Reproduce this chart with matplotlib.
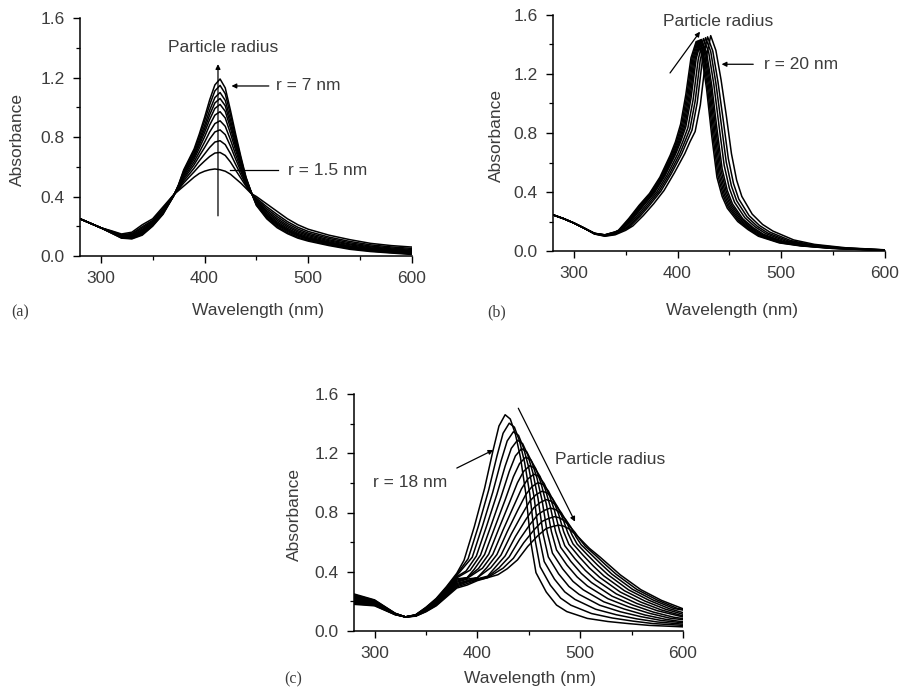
import matplotlib
matplotlib.use("Agg")
import matplotlib.pyplot as plt
from matplotlib.ticker import MultipleLocator

plt.rcParams['font.family'] = ['Liberation Sans', 'DejaVu Sans']

# ---------------- Panel (a): r = 1.5 ... 7 nm ----------------
A_WL = [280, 290, 300, 310, 320, 330, 340, 350, 360, 370, 375, 380, 385, 390, 395, 400,
        405, 410, 415, 420, 425, 430, 435, 440, 445, 450, 460, 470, 480, 490, 500,
        520, 540, 560, 580, 600]
A_ABS = [
    [.25, .22, .19, .17, .148, .16, .21, .25, .33, .41, .44, .47, .50, .53, .555, .57, .58, .585, .58, .57, .55, .52, .49, .455, .42, .40, .35, .30, .25, .21, .18, .14, .11, .085, .07, .06],
    [.25, .22, .19, .167, .143, .151, .197, .240, .320, .408, .448, .491, .529, .566, .605, .638, .669, .692, .696, .676, .632, .577, .524, .469, .422, .389, .331, .279, .231, .193, .165, .127, .098, .075, .061, .051],
    [.25, .22, .19, .165, .139, .146, .188, .234, .314, .407, .453, .505, .548, .591, .640, .685, .730, .766, .775, .749, .688, .616, .548, .479, .423, .381, .318, .265, .218, .181, .154, .118, .089, .067, .054, .044],
    [.25, .22, .19, .163, .136, .140, .179, .228, .308, .406, .458, .518, .566, .614, .672, .728, .787, .834, .848, .816, .739, .652, .569, .488, .424, .374, .306, .252, .206, .170, .145, .109, .081, .061, .048, .038],
    [.25, .22, .19, .162, .133, .136, .172, .223, .303, .405, .462, .529, .581, .633, .698, .764, .834, .890, .909, .872, .782, .682, .587, .496, .425, .368, .296, .241, .196, .161, .137, .102, .075, .055, .043, .033],
    [.25, .22, .19, .160, .130, .131, .165, .218, .298, .404, .466, .540, .596, .652, .725, .800, .881, .947, .970, .928, .825, .712, .605, .503, .426, .362, .286, .230, .186, .152, .129, .095, .068, .050, .038, .028],
    [.25, .22, .19, .159, .128, .128, .160, .214, .294, .403, .469, .549, .608, .667, .746, .829, .918, .992, 1.019, .973, .860, .736, .620, .509, .427, .357, .278, .221, .178, .145, .122, .090, .063, .045, .034, .024],
    [.25, .22, .19, .158, .126, .125, .155, .211, .291, .402, .471, .556, .618, .679, .763, .853, .949, 1.029, 1.059, 1.010, .888, .756, .631, .514, .428, .353, .272, .214, .172, .139, .117, .085, .059, .042, .031, .021],
    [.25, .22, .19, .157, .124, .122, .151, .208, .288, .402, .474, .564, .628, .692, .780, .876, .980, 1.065, 1.099, 1.046, .916, .775, .643, .519, .429, .349, .265, .207, .165, .134, .112, .081, .055, .038, .028, .018],
    [.25, .22, .19, .156, .122, .118, .145, .204, .284, .401, .477, .572, .640, .707, .801, .905, 1.017, 1.110, 1.147, 1.091, .950, .799, .657, .525, .429, .344, .257, .198, .157, .126, .106, .075, .050, .034, .023, .014],
    [.25, .22, .19, .155, .12, .115, .14, .20, .28, .40, .48, .58, .65, .72, .82, .93, 1.05, 1.15, 1.19, 1.13, .98, .82, .67, .53, .43, .34, .25, .19, .15, .12, .10, .07, .045, .03, .02, .01],
]

# ---------------- Panel (b): up to r = 20 nm ----------------
B_WL = [
    [280, 290, 300, 310, 320, 330, 340, 343, 353, 363, 373, 383, 393, 398, 403, 408, 413, 418, 423, 428, 433, 438, 443, 448, 458, 468, 478, 498, 518, 548, 600],
    [280, 290, 300, 310, 320, 330, 340, 344, 354, 364, 374, 384, 394, 399, 404, 409, 414, 419, 424, 429, 434, 439, 444, 449, 459, 469, 479, 499, 519, 549, 600],
    [280, 290, 300, 310, 320, 330, 340, 345, 355, 365, 375, 385, 395, 400, 405, 410, 415, 420, 425, 430, 435, 440, 445, 450, 460, 470, 480, 500, 520, 550, 600],
    [280, 290, 300, 310, 320, 330, 340, 346, 356, 366, 376, 386, 396, 401, 406, 411, 416, 421, 426, 431, 436, 441, 446, 451, 461, 471, 481, 501, 521, 551, 600],
    [280, 290, 300, 310, 320, 330, 340, 347, 357, 367, 377, 387, 397, 402, 407, 412, 417, 422, 427, 432, 437, 442, 447, 452, 462, 472, 482, 502, 522, 552, 600],
    [280, 290, 300, 310, 320, 330, 340, 348, 358, 368, 378, 388, 398, 403, 408, 413, 418, 423, 428, 433, 438, 443, 448, 453, 463, 473, 483, 503, 523, 553, 600],
    [280, 290, 300, 310, 320, 330, 340, 350, 360, 370, 380, 390, 400, 405, 410, 415, 420, 425, 430, 435, 440, 445, 450, 455, 465, 475, 485, 505, 525, 555, 600],
    [280, 290, 300, 310, 320, 330, 340, 352, 362, 372, 382, 392, 402, 407, 412, 417, 422, 427, 432, 437, 442, 447, 452, 457, 467, 477, 487, 507, 527, 557, 600],
    [280, 290, 300, 310, 320, 330, 340, 354, 364, 374, 384, 394, 404, 409, 414, 419, 424, 429, 434, 439, 444, 449, 454, 459, 469, 479, 489, 509, 529, 559, 600],
    [280, 290, 300, 310, 320, 330, 340, 350, 357, 367, 377, 387, 397, 407, 412, 417, 422, 427, 432, 437, 442, 447, 452, 457, 462, 472, 482, 492, 512, 532, 562, 600],
]
B_ABS = [
    [.245, .22, .19, .155, .12, .11, .13, .14, .22, .31, .39, .50, .65, .74, .86, 1.06, 1.31, 1.42, 1.34, 1.10, .78, .50, .37, .29, .20, .145, .10, .055, .035, .018, .004],
    [.245, .22, .19, .155, .12, .109, .129, .142, .221, .311, .391, .502, .651, .74, .857, 1.055, 1.309, 1.423, 1.341, 1.104, .790, .511, .378, .296, .204, .147, .102, .056, .036, .018, .004],
    [.245, .22, .19, .155, .119, .109, .127, .144, .223, .311, .393, .504, .651, .74, .853, 1.050, 1.307, 1.426, 1.343, 1.108, .800, .522, .385, .301, .207, .150, .105, .058, .036, .019, .005],
    [.245, .22, .19, .155, .119, .108, .126, .146, .224, .312, .394, .506, .652, .74, .850, 1.045, 1.306, 1.428, 1.344, 1.113, .809, .534, .393, .307, .211, .152, .107, .059, .037, .019, .005],
    [.245, .22, .19, .155, .119, .107, .124, .149, .226, .313, .396, .509, .653, .74, .846, 1.040, 1.304, 1.432, 1.346, 1.117, .821, .546, .402, .313, .215, .155, .110, .061, .038, .019, .005],
    [.245, .22, .19, .155, .118, .106, .123, .151, .227, .314, .397, .511, .654, .74, .842, 1.035, 1.303, 1.434, 1.347, 1.122, .830, .558, .410, .319, .218, .158, .113, .062, .039, .019, .005],
    [.245, .22, .19, .155, .118, .105, .12, .155, .23, .315, .40, .515, .655, .74, .835, 1.025, 1.30, 1.44, 1.35, 1.13, .85, .58, .425, .33, .225, .163, .118, .065, .04, .02, .006],
    [.245, .22, .19, .155, .117, .104, .117, .159, .233, .316, .403, .519, .656, .74, .828, 1.015, 1.297, 1.446, 1.353, 1.138, .870, .602, .440, .341, .232, .167, .122, .068, .041, .021, .007],
    [.245, .22, .19, .155, .116, .102, .114, .164, .236, .318, .406, .524, .658, .74, .82, 1.005, 1.294, 1.452, 1.356, 1.147, .891, .626, .457, .353, .240, .173, .128, .071, .043, .021, .007],
    [.245, .22, .19, .155, .115, .10, .11, .14, .17, .24, .32, .41, .53, .66, .74, .81, .99, 1.29, 1.46, 1.36, 1.16, .92, .66, .48, .37, .25, .18, .135, .075, .045, .022, .008],
]

# ---------------- Panel (c): from r = 18 nm upward ----------------
C_WL = [
    [280, 300, 320, 330, 340, 350, 360, 370, 380, 387, 397, 407, 415, 421, 427, 432, 437, 442, 447, 452, 457, 467, 477, 487, 507, 527, 547, 567, 587, 600],
    [280, 300, 320, 330, 340, 350, 360, 370, 380, 391, 401, 411, 419, 425, 431, 436, 441, 446, 451, 456, 461, 471, 481, 491, 511, 531, 551, 571, 600],
    [280, 300, 320, 330, 340, 350, 360, 370, 380, 395, 405, 415, 423, 429, 435, 440, 445, 450, 455, 460, 465, 475, 485, 495, 515, 535, 555, 575, 600],
    [280, 300, 320, 330, 340, 350, 360, 370, 380, 389, 399, 409, 419, 427, 433, 439, 444, 449, 454, 459, 464, 469, 479, 489, 499, 519, 539, 559, 579, 600],
    [280, 300, 320, 330, 340, 350, 360, 370, 380, 393, 403, 413, 423, 431, 437, 443, 448, 453, 458, 463, 468, 473, 483, 493, 503, 523, 543, 563, 583, 600],
    [280, 300, 320, 330, 340, 350, 360, 370, 380, 390, 397, 407, 417, 427, 435, 441, 447, 452, 457, 462, 467, 472, 477, 487, 497, 507, 527, 547, 567, 587, 600],
    [280, 300, 320, 330, 340, 350, 360, 370, 380, 390, 401, 411, 421, 431, 439, 445, 451, 456, 461, 466, 471, 476, 481, 491, 501, 511, 531, 551, 571, 591, 600],
    [280, 300, 320, 330, 340, 350, 360, 370, 380, 390, 405, 415, 425, 435, 443, 449, 455, 460, 465, 470, 475, 480, 485, 495, 505, 515, 535, 555, 575, 600],
    [280, 300, 320, 330, 340, 350, 360, 370, 380, 390, 400, 409, 419, 429, 439, 447, 453, 459, 464, 469, 474, 479, 484, 489, 499, 509, 519, 539, 559, 579, 600],
    [280, 300, 320, 330, 340, 350, 360, 370, 380, 390, 400, 413, 423, 433, 443, 451, 457, 463, 468, 473, 478, 483, 488, 493, 503, 513, 523, 543, 563, 583, 600],
    [280, 300, 320, 330, 340, 350, 360, 370, 380, 390, 400, 410, 417, 427, 437, 447, 455, 461, 467, 472, 477, 482, 487, 492, 497, 507, 517, 527, 547, 567, 587, 600],
    [280, 300, 320, 330, 340, 350, 360, 370, 380, 390, 400, 410, 421, 431, 441, 451, 459, 465, 471, 476, 481, 486, 491, 496, 501, 511, 521, 531, 551, 571, 591, 600],
    [280, 300, 320, 330, 340, 350, 360, 370, 380, 390, 400, 410, 425, 435, 445, 455, 463, 469, 475, 480, 485, 490, 495, 500, 505, 515, 525, 535, 555, 575, 595, 600],
    [280, 300, 320, 330, 340, 350, 360, 370, 380, 390, 400, 410, 420, 429, 439, 449, 459, 467, 473, 479, 484, 489, 494, 499, 504, 509, 519, 529, 539, 559, 579, 600],
]
C_ABS = [
    [.25, .21, .12, .095, .11, .16, .22, .30, .39, .477, .704, .963, 1.212, 1.384, 1.46, 1.431, 1.329, 1.168, .934, .599, .394, .263, .175, .131, .085, .064, .050, .038, .032, .028],
    [.245, .207, .119, .095, .109, .158, .216, .295, .382, .488, .708, .952, 1.180, 1.335, 1.403, 1.376, 1.283, 1.136, .924, .620, .434, .309, .222, .174, .118, .088, .067, .050, .038],
    [.239, .204, .118, .095, .108, .155, .212, .289, .375, .498, .710, .938, 1.147, 1.283, 1.345, 1.321, 1.235, 1.102, .911, .639, .469, .350, .264, .213, .147, .110, .082, .061, .046],
    [.234, .201, .118, .095, .108, .153, .208, .284, .367, .405, .506, .709, .923, 1.113, 1.233, 1.288, 1.265, 1.189, 1.068, .895, .653, .500, .386, .301, .247, .174, .130, .097, .071, .055],
    [.228, .198, .117, .095, .107, .151, .205, .278, .359, .411, .512, .706, .905, 1.077, 1.182, 1.231, 1.210, 1.141, 1.032, .879, .664, .526, .419, .335, .278, .197, .148, .108, .079, .062],
    [.223, .195, .116, .095, .106, .148, .201, .273, .352, .36, .417, .516, .701, .885, 1.041, 1.130, 1.174, 1.155, 1.093, .996, .859, .672, .547, .446, .365, .304, .218, .163, .120, .087, .076],
    [.218, .192, .115, .095, .105, .146, .197, .268, .344, .36, .421, .518, .693, .863, 1.001, 1.078, 1.116, 1.099, 1.043, .958, .838, .674, .565, .469, .389, .327, .235, .176, .128, .093, .084],
    [.212, .188, .115, .095, .105, .144, .193, .262, .336, .355, .424, .518, .682, .838, .961, 1.026, 1.059, 1.043, .995, .918, .814, .674, .576, .487, .409, .346, .251, .186, .137, .095],
    [.207, .185, .114, .095, .104, .142, .189, .257, .329, .35, .36, .426, .516, .670, .812, .920, .974, 1.002, .988, .946, .879, .790, .669, .585, .501, .425, .362, .263, .195, .142, .102],
    [.202, .182, .113, .095, .103, .139, .185, .252, .321, .34, .36, .427, .513, .655, .782, .877, .920, .944, .932, .895, .837, .761, .662, .588, .510, .437, .372, .272, .202, .147, .113],
    [.196, .179, .112, .095, .102, .137, .182, .246, .313, .335, .352, .37, .427, .507, .638, .751, .833, .867, .887, .876, .844, .795, .732, .650, .587, .514, .444, .380, .278, .207, .150, .124],
    [.191, .176, .112, .095, .102, .135, .178, .241, .305, .33, .35, .365, .426, .501, .618, .718, .787, .814, .830, .820, .794, .752, .700, .635, .582, .515, .447, .383, .281, .209, .152, .141],
    [.185, .173, .111, .095, .101, .132, .174, .235, .298, .32, .345, .36, .424, .491, .595, .682, .740, .759, .772, .764, .742, .706, .665, .616, .572, .510, .445, .383, .281, .209, .151, .147],
    [.18, .17, .11, .095, .10, .13, .17, .23, .29, .31, .34, .36, .38, .42, .48, .571, .645, .692, .705, .715, .708, .690, .661, .629, .593, .558, .501, .440, .379, .279, .207, .15],
]

X_TICKS = [300, 400, 500, 600]
Y_TICKS = [0.0, 0.4, 0.8, 1.2, 1.6]
Y_TICK_LABELS = ["0.0", "0.4", "0.8", "1.2", "1.6"]
X_LABEL = "Wavelength (nm)"
Y_LABEL = "Absorbance"

TXT = '#3c3c3c'
FS = 12.5
LW = 1.1

fig = plt.figure(figsize=(9.04, 6.89), dpi=100)


def px_axes(l, t, r, b):
    return fig.add_axes([l / 904, 1 - b / 689, (r - l) / 904, (b - t) / 689])


def style(ax, ylab_x, xlab_y, xlab_x):
    ax.set_xlim(280, 600)
    ax.set_ylim(0, 1.6)
    for s in ('top', 'right'):
        ax.spines[s].set_visible(False)
    for s in ('left', 'bottom'):
        ax.spines[s].set_linewidth(1.1)
    ax.set_xticks(X_TICKS)
    ax.set_yticks(Y_TICKS)
    ax.set_yticklabels(Y_TICK_LABELS)
    ax.xaxis.set_minor_locator(MultipleLocator(50))
    ax.yaxis.set_minor_locator(MultipleLocator(0.2))
    ax.tick_params(which='major', direction='out', length=5, width=1.0,
                   labelsize=FS, labelcolor=TXT, pad=6)
    ax.tick_params(which='minor', direction='out', length=3, width=0.9)
    ax.set_xlabel(X_LABEL, fontsize=FS, color=TXT, va='center')
    ax.set_ylabel(Y_LABEL, fontsize=FS, color=TXT, va='center')
    ax.xaxis.set_label_coords(xlab_x, xlab_y)
    ax.yaxis.set_label_coords(ylab_x, 0.49)


arrow_kw = dict(arrowstyle='-|>', color='k', lw=0.9, mutation_scale=7,
                shrinkA=0, shrinkB=0)

# ---- (a)
axa = px_axes(80, 18, 412, 256)
for ys in A_ABS:
    axa.plot(A_WL, ys, color='k', lw=LW)
style(axa, -0.187, -0.227, 0.536)
axa.annotate('', xy=(413, 1.29), xytext=(413, 0.27), arrowprops=arrow_kw)
axa.text(418, 1.40, 'Particle radius', fontsize=FS, color=TXT, ha='center', va='center')
axa.annotate('', xy=(426, 1.143), xytext=(462, 1.143), arrowprops=arrow_kw)
axa.text(469, 1.143, 'r = 7 nm', fontsize=FS, color=TXT, ha='left', va='center')
axa.plot([424.6, 471], [0.578, 0.578], color='k', lw=0.9)
axa.text(480, 0.578, 'r = 1.5 nm', fontsize=FS, color=TXT, ha='left', va='center')

# ---- (b)
axb = px_axes(553, 15, 885, 251)
for xs, ys in zip(B_WL, B_ABS):
    axb.plot(xs, ys, color='k', lw=LW)
style(axb, -0.17, -0.25, 0.538)
axb.annotate('', xy=(421.7, 1.487), xytext=(392.8, 1.207), arrowprops=arrow_kw)
axb.text(439.5, 1.555, 'Particle radius', fontsize=FS, color=TXT, ha='center', va='center')
axb.annotate('', xy=(442.5, 1.266), xytext=(473, 1.266), arrowprops=arrow_kw)
axb.text(483, 1.266, 'r = 20 nm', fontsize=FS, color=TXT, ha='left', va='center')

# ---- (c)
axc = px_axes(354, 394, 683, 631)
for xs, ys in zip(C_WL, C_ABS):
    axc.plot(xs, ys, color='k', lw=LW)
style(axc, -0.18, -0.2, 0.535)
axc.annotate('', xy=(415.5, 1.222), xytext=(380, 1.10), arrowprops=arrow_kw)
axc.text(298.5, 1.0, 'r = 18 nm', fontsize=FS, color=TXT, ha='left', va='center')
axc.annotate('', xy=(495, 0.738), xytext=(439.8, 1.504), arrowprops=arrow_kw)
axc.text(475.5, 1.155, 'Particle radius', fontsize=FS, color=TXT, ha='left', va='center')

# panel letters
for lab, (x, y) in zip(['(a)', '(b)', '(c)'], [(20, 312), (497, 312), (293, 679)]):
    fig.text(x / 904, 1 - y / 689, lab, fontsize=11.5, color=TXT, ha='center', va='center',
             family=['Liberation Serif', 'DejaVu Serif'])

fig.savefig('out.png', dpi=100)
